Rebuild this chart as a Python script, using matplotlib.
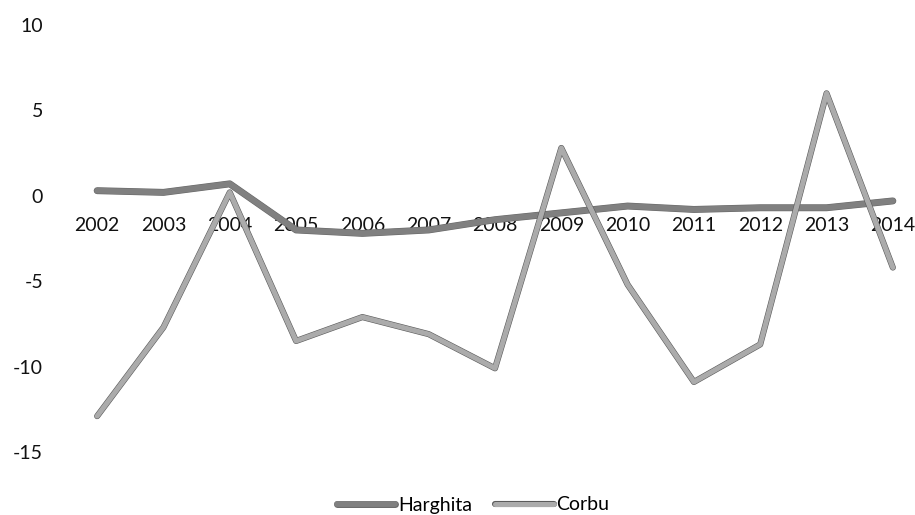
import matplotlib
matplotlib.use("Agg")
from matplotlib import pyplot as plt
import matplotlib.patheffects as pe

# data
years = ["2002", "2003", "2004", "2005", "2006", "2007", "2008",
         "2009", "2010", "2011", "2012", "2013", "2014"]
harghita = [0.3, 0.2, 0.7, -2.0, -2.2, -2.0, -1.4, -1.0, -0.6, -0.8, -0.7, -0.7, -0.3]
corbu = [-12.9, -7.7, 0.2, -8.5, -7.1, -8.1, -10.1, 2.8, -5.2, -10.9, -8.7, 6.0, -4.2]

plt.rcParams['font.family'] = ['Lato', 'DejaVu Sans']
plt.rcParams['axes.unicode_minus'] = False

fig = plt.figure(figsize=(9.15, 5.15), dpi=100)
ax = fig.add_axes([64 / 915, 1 - 452 / 515, 862 / 915, 427 / 515])

x = range(len(years))
ax.plot(x, harghita, color='#808080', linewidth=4.2, solid_capstyle='round',
        label='Harghita',
        path_effects=[pe.Stroke(linewidth=5.0, foreground='#686868'), pe.Normal()])
ax.plot(x, corbu, color='#ababab', linewidth=3.6, solid_capstyle='round',
        label='Corbu',
        path_effects=[pe.Stroke(linewidth=4.4, foreground='#5a5a5a'), pe.Normal()])

ax.set_xlim(-0.5, len(years) - 0.5)
ax.set_ylim(-15, 10)
ax.set_yticks([-15, -10, -5, 0, 5, 10])
ax.set_xticks(list(x))
ax.set_xticklabels(years)

for side in ['top', 'right', 'left']:
    ax.spines[side].set_visible(False)
ax.spines['bottom'].set_position(('data', 0))
ax.spines['bottom'].set_visible(False)

ax.tick_params(axis='x', length=0, pad=15, labelsize=14, labelcolor='#111111')
ax.tick_params(axis='y', length=0, pad=15, labelsize=14, labelcolor='#111111')

fig.legend(loc='center', bbox_to_anchor=(473 / 915, 1 - 505 / 515), ncol=2,
           frameon=False, fontsize=14, handlelength=3.0, handletextpad=0.15,
           columnspacing=1.2)

fig.savefig("out.png", dpi=100)
